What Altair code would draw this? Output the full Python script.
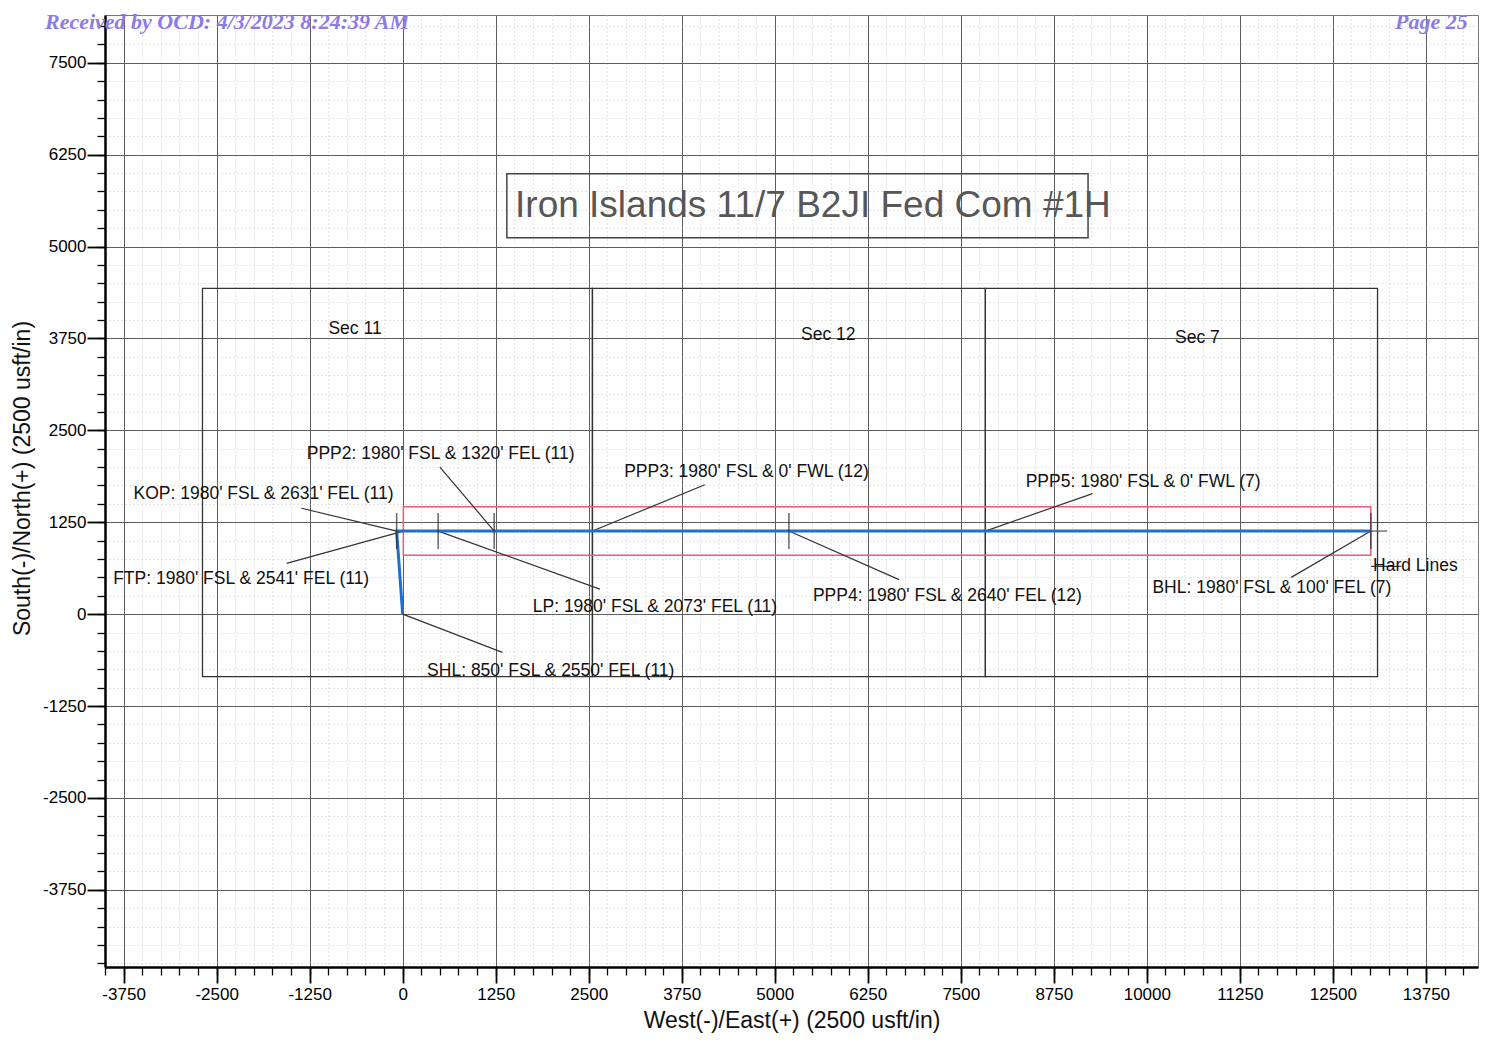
import altair as alt
import pandas as pd

# ---------------- data (usft, plan view, origin at SHL) ----------------
sec_names = ["Sec 11", "Sec 12", "Sec 7"]
sec_west = [-2690, 2550, 7830]
sec_east = [2550, 7830, 13100]
sec_south = [-850, -850, -850]
sec_north = [4430, 4430, 4430]
sec_label_x = [-640, 5720, 10680]
sec_label_y = [3880, 3800, 3760]

path_names = ["SHL", "KOP", "FTP", "LP", "PPP2", "PPP3", "PPP4", "PPP5", "BHL"]
path_ew = [0, -81, 9, 477, 1230, 2550, 5190, 7830, 13010]
path_ns = [0, 1130, 1130, 1130, 1130, 1130, 1130, 1130, 1130]

tick_names = ["KOP", "LP", "PPP2", "PPP4", "BHL"]

ann_names = ["SHL", "KOP", "FTP", "LP", "PPP2", "PPP3", "PPP4", "PPP5", "BHL"]
ann_text = [
    "SHL: 850' FSL & 2550' FEL (11)",
    "KOP: 1980' FSL & 2631' FEL (11)",
    "FTP: 1980' FSL & 2541' FEL (11)",
    "LP: 1980' FSL & 2073' FEL (11)",
    "PPP2: 1980' FSL & 1320' FEL (11)",
    "PPP3: 1980' FSL & 0' FWL (12)",
    "PPP4: 1980' FSL & 2640' FEL (12)",
    "PPP5: 1980' FSL & 0' FWL (7)",
    "BHL: 1980' FSL & 100' FEL (7)",
]
ann_x = [1990, -1870, -2170, 3390, 510, 4620, 7320, 9950, 11680]
ann_y = [-780, 1630, 480, 100, 2180, 1940, 240, 1800, 350]
lead_x = [1340, -1360, -1560, 2650, 500, 4060, 6670, 9270, 11940]
lead_y = [-520, 1440, 690, 340, 2000, 1760, 470, 1640, 500]

hard_west, hard_east, hard_south, hard_north = [9], [13010], [800], [1460]
hard_label = ["Hard Lines"]
hard_label_x = [13040]
hard_label_y = [650]
hard_lead_x = [13010]
hard_lead_x2 = [13420]

title_text = ["Iron Islands 11/7 B2JI Fed Com #1H"]
title_box_x = [1400]
title_box_x2 = [9210]
title_box_y = [5120]
title_box_y2 = [5990]
title_text_x = [1510]
title_text_y = [5555]

header_left = ["Received by OCD: 4/3/2023 8:24:39 AM"]
header_right = ["Page 25"]

x_minor = list(range(-4000, 14251, 250))
x_major = list(range(-3750, 13751, 1250))
y_minor = list(range(-4750, 8001, 250))
y_major = list(range(-3750, 7501, 1250))

# ---------------- tables ----------------
sec_df = pd.DataFrame({"name": sec_names, "w": sec_west, "e": sec_east, "s": sec_south,
                       "n": sec_north, "lx": sec_label_x, "ly": sec_label_y})
path_df = pd.DataFrame({"name": path_names, "ew": path_ew, "ns": path_ns,
                        "order": list(range(len(path_names)))})
pt = dict(zip(path_names, zip(path_ew, path_ns)))
tick_df = pd.DataFrame({"name": tick_names, "ew": [pt[n][0] for n in tick_names],
                        "ns": [pt[n][1] for n in tick_names]})
ann_df = pd.DataFrame({"name": ann_names, "text": ann_text, "tx": ann_x, "ty": ann_y,
                       "px": [pt[n][0] for n in ann_names], "py": [pt[n][1] for n in ann_names],
                       "lx": lead_x, "ly": lead_y})
ext_df = pd.DataFrame({"px": [pt["BHL"][0]], "py": [pt["BHL"][1]], "lx": [13230], "ly": [pt["BHL"][1]]})
hard_df = pd.DataFrame({"w": hard_west, "e": hard_east, "s": hard_south, "n": hard_north,
                        "label": hard_label, "lx": hard_label_x, "ly": hard_label_y,
                        "ax": hard_lead_x, "ax2": hard_lead_x2})
title_df = pd.DataFrame({"text": title_text, "x": title_box_x, "x2": title_box_x2,
                         "y": title_box_y, "y2": title_box_y2, "tx": title_text_x, "ty": title_text_y})
header_df = pd.DataFrame({"left": header_left, "right": header_right})

FONT = "Liberation Sans, Arial, Helvetica, sans-serif"
xs = alt.Scale(domain=[-4000, 14450], nice=False, zero=False)
ys = alt.Scale(domain=[-4800, 8150], nice=False, zero=False)

# ---------------- axes ----------------
minor_x = alt.Axis(values=x_minor, labels=False, tickSize=8, tickWidth=1.3, tickColor="black",
                   grid=True, gridColor="#bdbdbd", gridDash=[1, 3], gridWidth=0.8,
                   domain=False, title=None, orient="bottom")
minor_y = alt.Axis(values=y_minor, labels=False, tickSize=8, tickWidth=1.3, tickColor="black",
                   grid=True, gridColor="#bdbdbd", gridDash=[1, 3], gridWidth=0.8,
                   domain=False, title=None, orient="left")
major_x = alt.Axis(values=x_major, labelExpr="'' + datum.value", tickSize=16, tickWidth=1.8,
                   tickColor="black", grid=True, gridColor="#5e5e5e", gridWidth=1,
                   domain=True, domainColor="black", domainWidth=2.5,
                   labelFont=FONT, labelFontSize=17, labelColor="black", labelPadding=3,
                   labelFlush=False, labelOverlap=False,
                   title="West(-)/East(+) (2500 usft/in)", titleFont=FONT, titleFontSize=23,
                   titleFontWeight="normal", titleColor="#111", titleY=53, titleBaseline="middle",
                   orient="bottom")
major_y = alt.Axis(values=y_major, labelExpr="'' + datum.value", tickSize=18, tickWidth=1.8,
                   tickColor="black", grid=True, gridColor="#5e5e5e", gridWidth=1,
                   domain=True, domainColor="black", domainWidth=2.5,
                   labelFont=FONT, labelFontSize=17, labelColor="black", labelPadding=1,
                   labelFlush=False, labelOverlap=False,
                   title="South(-)/North(+) (2500 usft/in)", titleFont=FONT, titleFontSize=23,
                   titleFontWeight="normal", titleColor="#111", titleX=-83, titleY=463,
                   titleBaseline="middle", orient="left")

# ---------------- layers ----------------
axis_minor = alt.Chart(path_df).mark_point(opacity=0).encode(
    x=alt.X("ew:Q", scale=xs, axis=minor_x), y=alt.Y("ns:Q", scale=ys, axis=minor_y))
axis_major = alt.Chart(path_df).mark_point(opacity=0).encode(
    x=alt.X("ew:Q", scale=xs, axis=major_x), y=alt.Y("ns:Q", scale=ys, axis=major_y))

sections = alt.Chart(sec_df).mark_rect(filled=False, stroke="#333333", strokeWidth=1.3).encode(
    x=alt.X("w:Q", scale=xs, axis=None), x2="e:Q",
    y=alt.Y("s:Q", scale=ys, axis=None), y2="n:Q")
sec_labels = alt.Chart(sec_df).mark_text(font=FONT, fontSize=17.5, color="#111").encode(
    x=alt.X("lx:Q", scale=xs, axis=None), y=alt.Y("ly:Q", scale=ys, axis=None), text="name:N")

hard = alt.Chart(hard_df).mark_rect(filled=False, stroke="#ee5a7a", strokeWidth=1.5).encode(
    x=alt.X("w:Q", scale=xs, axis=None), x2="e:Q",
    y=alt.Y("s:Q", scale=ys, axis=None), y2="n:Q")
hard_lead = alt.Chart(hard_df).mark_rule(color="#333", strokeWidth=1.2).encode(
    x=alt.X("ax:Q", scale=xs, axis=None), x2="ax2:Q", y=alt.Y("ly:Q", scale=ys, axis=None))
hard_text = alt.Chart(hard_df).mark_text(font=FONT, fontSize=17.5, color="#111", align="left",
                                          baseline="middle").encode(
    x=alt.X("lx:Q", scale=xs, axis=None), y=alt.Y("ly:Q", scale=ys, axis=None), text="label:N")

leaders = alt.Chart(ann_df).mark_rule(color="#333", strokeWidth=1.2).encode(
    x=alt.X("px:Q", scale=xs, axis=None), x2="lx:Q",
    y=alt.Y("py:Q", scale=ys, axis=None), y2="ly:Q")
ext = alt.Chart(ext_df).mark_rule(color="#555", strokeWidth=1.2).encode(
    x=alt.X("px:Q", scale=xs, axis=None), x2="lx:Q",
    y=alt.Y("py:Q", scale=ys, axis=None), y2="ly:Q")

path = alt.Chart(path_df).mark_line(color="#1e6fd0", strokeWidth=3).encode(
    x=alt.X("ew:Q", scale=xs, axis=None), y=alt.Y("ns:Q", scale=ys, axis=None), order="order:Q")
ticks = alt.Chart(tick_df).mark_tick(orient="vertical", size=36, thickness=1.5, color="#222").encode(
    x=alt.X("ew:Q", scale=xs, axis=None), y=alt.Y("ns:Q", scale=ys, axis=None))

ann = alt.Chart(ann_df).mark_text(font=FONT, fontSize=17.5, color="#111", align="center",
                                   baseline="middle").encode(
    x=alt.X("tx:Q", scale=xs, axis=None), y=alt.Y("ty:Q", scale=ys, axis=None), text="text:N")

tbox = alt.Chart(title_df).mark_rect(filled=False, stroke="#444", strokeWidth=1.5).encode(
    x=alt.X("x:Q", scale=xs, axis=None), x2="x2:Q",
    y=alt.Y("y:Q", scale=ys, axis=None), y2="y2:Q")
ttext = alt.Chart(title_df).mark_text(font=FONT, fontSize=37, color="#575757", align="left",
                                       baseline="middle").encode(
    x=alt.X("tx:Q", scale=xs, axis=None), y=alt.Y("ty:Q", scale=ys, axis=None), text="text:N")

hdr_l = alt.Chart(header_df).mark_text(font="Liberation Serif, Times New Roman, serif", fontSize=22,
                                        fontWeight="bold", fontStyle="italic", color="#8c7ae6",
                                        align="left", baseline="alphabetic").encode(
    x=alt.value(-60), y=alt.value(14), text="left:N")
hdr_r = alt.Chart(header_df).mark_text(font="Liberation Serif, Times New Roman, serif", fontSize=22,
                                        fontWeight="bold", fontStyle="italic", color="#8c7ae6",
                                        align="left", baseline="alphabetic").encode(
    x=alt.value(1290), y=alt.value(14), text="right:N")

chart = alt.layer(
    axis_minor, axis_major, sections, sec_labels, hard, hard_lead, leaders, ext, path, ticks,
    ann, hard_text, tbox, ttext, hdr_l, hdr_r
).resolve_axis(x="independent", y="independent").properties(
    width=1373, height=952,
    autosize=alt.AutoSizeParams(type="none"),
    padding={"left": 97, "top": 7, "right": 12, "bottom": 70},
    background="white",
).configure_view(stroke="#777", strokeWidth=1)

chart.save("out.html", embed_options={"renderer": "svg", "actions": False})
